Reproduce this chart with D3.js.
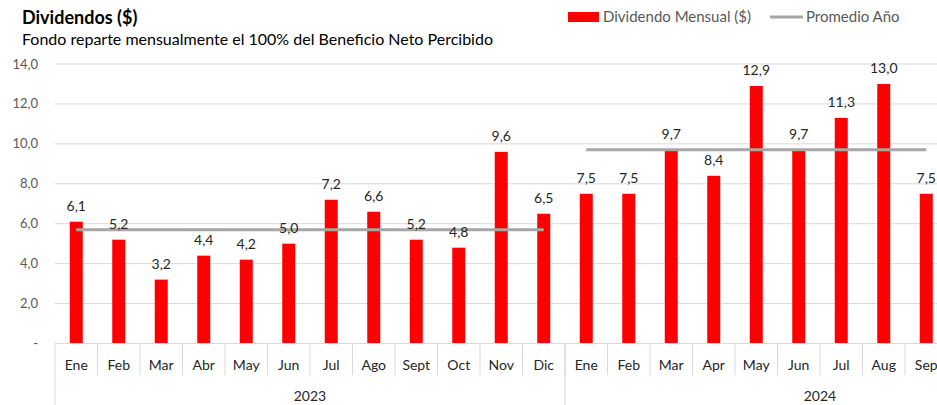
<!DOCTYPE html>
<html>
<head>
<meta charset="utf-8">
<script src="https://cdn.jsdelivr.net/npm/d3@7"></script>
<style>
  body { margin: 0; background: #fff; }
  svg { display: block; font-family: Lato, "Noto Sans", sans-serif; }
</style>
</head>
<body>
<svg id="chart" width="937" height="405"></svg>
<script>
// chart data
const years = ["2023", "2024"];
const months2023 = ["Ene", "Feb", "Mar", "Abr", "May", "Jun", "Jul", "Ago", "Sept", "Oct", "Nov", "Dic"];
const months2024 = ["Ene", "Feb", "Mar", "Apr", "May", "Jun", "Jul", "Aug", "Sep"];
const values2023 = [6.1, 5.2, 3.2, 4.4, 4.2, 5.0, 7.2, 6.6, 5.2, 4.8, 9.6, 6.5];
const values2024 = [7.5, 7.5, 9.7, 8.4, 12.9, 9.7, 11.3, 13.0, 7.5];
const yearAverages = [5.7, 9.7];
const yTicks = [0, 2, 4, 6, 8, 10, 12, 14];

// flatten into one row per month
const rows = [];
months2023.forEach((m, i) => rows.push({ key: "2023-" + i, month: m, year: "2023", value: values2023[i] }));
months2024.forEach((m, i) => rows.push({ key: "2024-" + i, month: m, year: "2024", value: values2024[i] }));

const svg = d3.select("#chart");
const fmt = (v) => d3.format(".1f")(v).replace(".", ",");

// plot area
const plotLeft = 55, plotTop = 64, plotBottom = 343.5;
const bandW = 42.5;
const x = d3.scaleBand()
  .domain(rows.map((d) => d.key))
  .range([plotLeft, plotLeft + rows.length * bandW])
  .padding(0);
const y = d3.scaleLinear().domain([0, 14]).range([plotBottom, plotTop]);
const barW = 13;

// gridlines
svg.append("g")
  .selectAll("line")
  .data(yTicks.filter((t) => t > 0))
  .join("line")
  .attr("x1", plotLeft).attr("x2", 937)
  .attr("y1", (d) => y(d)).attr("y2", (d) => y(d))
  .attr("stroke", "#d9d9d9").attr("stroke-width", 1);

// y axis labels
svg.append("g")
  .selectAll("text")
  .data(yTicks)
  .join("text")
  .attr("x", 38)
  .attr("y", (d) => y(d))
  .attr("dy", "0.35em")
  .attr("text-anchor", "end")
  .attr("font-size", 13)
  .attr("fill", "#595959")
  .text((d) => (d === 0 ? "-" : fmt(d)));

// bars
svg.append("g")
  .selectAll("rect")
  .data(rows)
  .join("rect")
  .attr("x", (d) => x(d.key) + x.bandwidth() / 2 - barW / 2)
  .attr("y", (d) => y(d.value))
  .attr("width", barW)
  .attr("height", (d) => y(0) - y(d.value))
  .attr("fill", "#ff0000");

// yearly average lines
years.forEach((yr, i) => {
  const yrRows = rows.filter((d) => d.year === yr);
  const first = yrRows[0], last = yrRows[yrRows.length - 1];
  svg.append("line")
    .attr("x1", x(first.key) + x.bandwidth() / 2)
    .attr("x2", x(last.key) + x.bandwidth() / 2)
    .attr("y1", y(yearAverages[i]))
    .attr("y2", y(yearAverages[i]))
    .attr("stroke", "#a6a6a6")
    .attr("stroke-width", 3);
});

// data labels
svg.append("g")
  .selectAll("text")
  .data(rows)
  .join("text")
  .attr("x", (d) => x(d.key) + x.bandwidth() / 2)
  .attr("y", (d) => y(d.value) - 11)
  .attr("text-anchor", "middle")
  .attr("font-size", 14)
  .attr("fill", "#262626")
  .text((d) => fmt(d.value));

// category axis
const axisG = svg.append("g");
axisG.append("line")
  .attr("x1", plotLeft).attr("x2", 937)
  .attr("y1", plotBottom).attr("y2", plotBottom)
  .attr("stroke", "#d9d9d9");
// month separators
axisG.selectAll(".msep")
  .data(rows.slice(1))
  .join("line")
  .attr("class", "msep")
  .attr("x1", (d) => x(d.key)).attr("x2", (d) => x(d.key))
  .attr("y1", plotBottom).attr("y2", 375)
  .attr("stroke", "#d9d9d9");
// year separators
const yearStarts = [rows[0].key, rows[months2023.length].key];
axisG.selectAll(".ysep")
  .data(yearStarts)
  .join("line")
  .attr("class", "ysep")
  .attr("x1", (d) => x(d)).attr("x2", (d) => x(d))
  .attr("y1", plotBottom).attr("y2", 405)
  .attr("stroke", "#d9d9d9");
// month labels
axisG.selectAll(".mlab")
  .data(rows)
  .join("text")
  .attr("class", "mlab")
  .attr("x", (d) => x(d.key) + x.bandwidth() / 2)
  .attr("y", 370)
  .attr("text-anchor", "middle")
  .attr("font-size", 14)
  .attr("fill", "#262626")
  .text((d) => d.month);
// year labels, centered under full 12-month span
axisG.selectAll(".ylab")
  .data(years)
  .join("text")
  .attr("class", "ylab")
  .attr("x", (d, i) => x(yearStarts[i]) + (12 * bandW) / 2)
  .attr("y", 401)
  .attr("text-anchor", "middle")
  .attr("font-size", 14)
  .attr("fill", "#262626")
  .text((d) => d);

// title and subtitle
svg.append("text")
  .attr("x", 22).attr("y", 24)
  .attr("font-size", 18).attr("font-weight", "bold")
  .attr("fill", "#000")
  .text("Dividendos ($)");
svg.append("text")
  .attr("x", 22).attr("y", 45)
  .attr("font-size", 16)
  .attr("fill", "#000")
  .text("Fondo reparte mensualmente el 100% del Beneficio Neto Percibido");

// legend
const legend = svg.append("g").attr("font-size", 15).attr("fill", "#595959");
legend.append("rect")
  .attr("x", 568).attr("y", 12).attr("width", 31).attr("height", 10)
  .attr("fill", "#ff0000");
legend.append("text").attr("x", 603).attr("y", 22).text("Dividendo Mensual ($)");
legend.append("line")
  .attr("x1", 770).attr("x2", 803).attr("y1", 17).attr("y2", 17)
  .attr("stroke", "#a6a6a6").attr("stroke-width", 3);
legend.append("text").attr("x", 806).attr("y", 22).text("Promedio Año");
</script>
</body>
</html>
